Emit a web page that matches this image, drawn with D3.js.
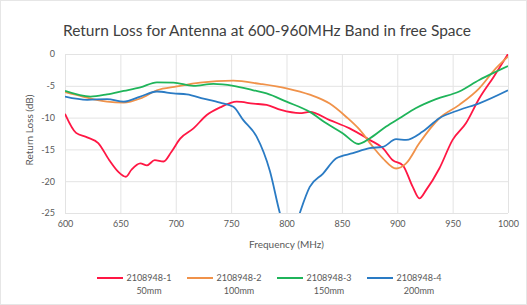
<!DOCTYPE html>
<html>
<head>
<meta charset="utf-8">
<script src="https://cdn.jsdelivr.net/npm/d3@7"></script>
<style>
  body { margin: 0; background: #fff; }
  svg { font-family: Lato, "Open Sans", sans-serif; }
</style>
</head>
<body>
<svg width="527" height="305"></svg>
<script>
/*------------------------
  ------ VARIABLES -------
  ------------------------*/

// input
var title = "Return Loss for Antenna at 600-960MHz Band in free Space" ;
var x_title = "Frequency (MHz)" ;
var y_title = "Return Loss (dB)" ;
var x_ticks = [600, 650, 700, 750, 800, 850, 900, 950, 1000] ;
var y_ticks = [0, -5, -10, -15, -20, -25] ;

var names = ["2108948-1", "2108948-2", "2108948-3", "2108948-4"] ;
var lengths = ["50mm", "100mm", "150mm", "200mm"] ;
var colors = ["#ff1744", "#f0924a", "#1fb45a", "#2a7bc4"] ;

var red_f = [600, 610, 620, 630, 640, 648, 655, 660, 668, 674, 681, 689, 696, 704, 716, 728, 740, 755, 770, 782, 795, 812, 821, 839, 857, 875, 887, 896, 905, 914, 920, 926, 938, 950, 962, 974, 987, 1000] ;
var red_v = [-9.4, -12.4, -13.1, -14.0, -16.7, -18.5, -19.3, -18.2, -17.2, -17.5, -16.7, -16.9, -15.4, -13.3, -11.7, -9.6, -8.4, -7.5, -7.8, -8.0, -8.8, -9.3, -9.1, -10.4, -11.7, -13.5, -14.8, -16.7, -17.5, -20.9, -22.7, -21.4, -18.0, -13.5, -10.9, -7.0, -3.6, 0] ;

var orange_f = [600, 616, 638, 653, 668, 683, 701, 722, 752, 776, 800, 821, 839, 854, 866, 878, 887, 899, 908, 920, 938, 956, 974, 989, 1000] ;
var orange_v = [-6.0, -6.7, -7.5, -7.65, -7.0, -5.7, -5.1, -4.5, -4.2, -4.7, -5.4, -6.4, -7.8, -9.9, -11.9, -14.6, -16.4, -18.0, -17.2, -14.0, -10.1, -8.0, -5.4, -2.25, -0.4] ;

var green_f = [600, 623, 638, 653, 668, 683, 698, 716, 734, 752, 770, 782, 800, 821, 836, 851, 865, 875, 890, 902, 917, 935, 956, 974, 989, 1000] ;
var green_v = [-5.8, -6.7, -6.35, -5.8, -5.25, -4.45, -4.5, -5.0, -4.7, -5.0, -5.7, -6.2, -7.5, -9.1, -10.9, -12.5, -14.15, -13.3, -11.4, -10.1, -8.5, -7.1, -5.9, -4.1, -2.8, -1.9] ;

var blue_f = [600, 620, 638, 653, 668, 683, 698, 710, 725, 740, 752, 761, 773, 785, 794, 803, 812, 821, 833, 845, 860, 875, 887, 899, 908, 923, 938, 956, 974, 1000] ;
var blue_v = [-6.7, -7.2, -7.1, -7.5, -6.7, -5.9, -6.2, -6.35, -7.0, -7.65, -8.3, -10.4, -13.0, -18.4, -25, -30, -25, -20.9, -18.8, -16.4, -15.6, -14.8, -14.6, -13.4, -13.5, -12.2, -10.1, -8.8, -7.75, -5.7] ;

var series_f = [red_f, orange_f, green_f, blue_f] ;
var series_v = [red_v, orange_v, green_v, blue_v] ;

// display
var plot = {left: 65, right: 508, top: 54, bot: 213} ;
var grid_col = "#e3e3e3" ;
var txt_col = "#595959" ;
var legend = {x0: 97, step: 90, line_w: 26, y1: 278, y2: 291} ;


var svg = d3.select("svg") ;

var x = d3.scaleLinear().domain([600, 1000]).range([plot.left, plot.right]) ;
var y = d3.scaleLinear().domain([-25, 0]).range([plot.bot, plot.top]) ;

function plain(d) {
    return String(d) ;
}

/*------------------------
  ------ FRAME/GRID ------
  ------------------------*/

svg.append("rect")
    .attr("x", 0.5).attr("y", 0.5)
    .attr("width", 526).attr("height", 304)
    .attr("fill", "#fff")
    .attr("stroke", "#e6e6e6") ;

svg.append("text")
    .attr("x", 267).attr("y", 36)
    .attr("text-anchor", "middle")
    .attr("font-size", 15.5)
    .attr("fill", "#404040")
    .text(title) ;

svg.append("g")
    .attr("transform", "translate(0," + plot.bot + ")")
    .call(d3.axisBottom(x).tickValues(x_ticks).tickFormat(plain).tickSize(-(plot.bot - plot.top)).tickPadding(8))
    .call(function(g) {
        g.select(".domain").remove() ;
        g.selectAll("line").attr("stroke", grid_col) ;
        g.selectAll("text").attr("fill", txt_col).attr("font-size", 9).attr("font-family", "Lato") ;
    }) ;

svg.append("g")
    .attr("transform", "translate(" + plot.left + ",0)")
    .call(d3.axisLeft(y).tickValues(y_ticks).tickFormat(plain).tickSize(-(plot.right - plot.left)).tickPadding(10))
    .call(function(g) {
        g.select(".domain").remove() ;
        g.selectAll("line").attr("stroke", grid_col) ;
        g.selectAll("text").attr("fill", txt_col).attr("font-size", 9).attr("font-family", "Lato") ;
    }) ;

svg.append("text")
    .attr("x", (plot.left + plot.right) / 2).attr("y", 248)
    .attr("text-anchor", "middle")
    .attr("font-size", 10)
    .attr("fill", txt_col)
    .text(x_title) ;

svg.append("text")
    .attr("transform", "translate(33,130) rotate(-90)")
    .attr("text-anchor", "middle")
    .attr("font-size", 10)
    .attr("fill", txt_col)
    .text(y_title) ;

/*------------------------
  -------- LINES ---------
  ------------------------*/

svg.append("clipPath").attr("id", "clip")
    .append("rect")
    .attr("x", plot.left).attr("y", plot.top)
    .attr("width", plot.right - plot.left).attr("height", plot.bot - plot.top) ;

var line = d3.line()
    .x(function(d) { return x(d[0]) ; })
    .y(function(d) { return y(d[1]) ; })
    .curve(d3.curveMonotoneX) ;

svg.append("g")
    .attr("clip-path", "url(#clip)")
    .selectAll("path")
    .data(series_f)
    .enter()
    .append("path")
    .attr("d", function(f, i) {
        return line(f.map(function(v, j) { return [v, series_v[i][j]] ; })) ;
    })
    .attr("fill", "none")
    .attr("stroke", function(f, i) { return colors[i] ; })
    .attr("stroke-width", 1.8) ;

/*------------------------
  -------- LEGEND --------
  ------------------------*/

var lg = svg.append("g")
    .selectAll("g")
    .data(names)
    .enter()
    .append("g")
    .attr("transform", function(d, i) { return "translate(" + (legend.x0 + i * legend.step) + ",0)" ; }) ;

lg.append("line")
    .attr("x1", 0).attr("x2", legend.line_w)
    .attr("y1", legend.y1).attr("y2", legend.y1)
    .attr("stroke", function(d, i) { return colors[i] ; })
    .attr("stroke-width", 2) ;

lg.append("text")
    .attr("x", 52).attr("y", legend.y1 + 3)
    .attr("text-anchor", "middle")
    .attr("font-size", 9)
    .attr("fill", txt_col)
    .text(function(d) { return d ; }) ;

lg.append("text")
    .attr("x", 52).attr("y", legend.y2 + 3)
    .attr("text-anchor", "middle")
    .attr("font-size", 9)
    .attr("fill", txt_col)
    .text(function(d, i) { return lengths[i] ; }) ;
</script>
</body>
</html>
